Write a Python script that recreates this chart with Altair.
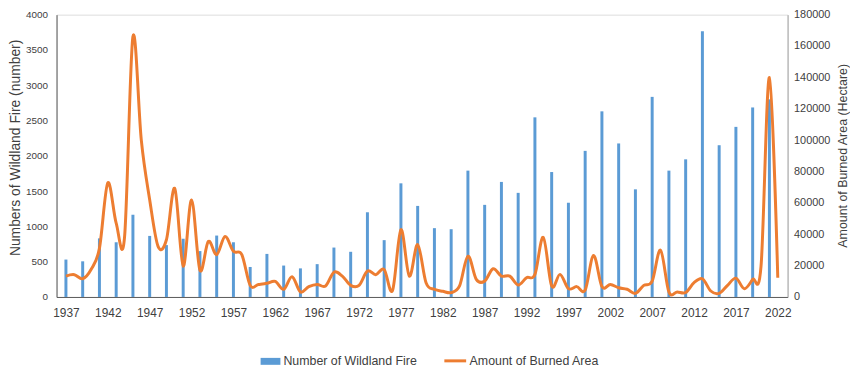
import altair as alt
import pandas as pd

# Number of wildland fires (bars, every other year)
bar_years = list(range(1937, 2022, 2))
fire_counts = [530, 505, 830, 775, 1165, 865, 735, 825, 650, 870, 775, 425,
               610, 445, 405, 465, 700, 640, 1200, 805, 1610, 1290, 975, 960,
               1790, 1305, 1630, 1475, 2545, 1770, 1335, 2070, 2630, 2175, 1525,
               2835, 1790, 1950, 3765, 2150, 2410, 2685, 2800]

# Amount of burned area (line, every year)
line_years = list(range(1937, 2023))
burned_area = [13300, 14200, 11600, 17500, 31000, 72800, 47100, 38200, 166000, 100000,
               62000, 32300, 36500, 69200, 19600, 61800, 17100, 35400, 27000, 38600,
               29100, 27000, 7400, 8000, 8700, 9900, 4900, 12900, 3200, 6600,
               8000, 7000, 15800, 13300, 7400, 7400, 16500, 14200, 17500, 4200,
               42900, 13300, 33400, 9100, 4900, 3600, 2800, 7000, 26000, 11200,
               10100, 18000, 13300, 13300, 7600, 12300, 14400, 38000, 7000, 14400,
               5300, 6600, 4400, 26400, 6600, 8000, 5900, 4900, 2300, 7400,
               10100, 29800, 3200, 3200, 2800, 9100, 11600, 3800, 2300, 7400,
               12000, 5300, 11200, 19600, 139900, 12300]

x_ticks = list(range(1937, 2023, 5))
left_ticks = list(range(0, 4001, 500))
right_ticks = list(range(0, 180001, 20000))

bar_name = "Number of Wildland Fire"
line_name = "Amount of Burned Area"

df_bars = pd.DataFrame({"year": bar_years, "fires": fire_counts, "s": bar_name})
df_line = pd.DataFrame({"year": line_years, "area": burned_area, "s": line_name})

FONT = "Liberation Sans"
TXT = "#404040"
x_scale = alt.Scale(domain=[1936.47, 2022.58], nice=False, zero=False)

bars = alt.Chart(df_bars).mark_bar(size=3).encode(
    x=alt.X("year:Q", scale=x_scale,
            axis=alt.Axis(values=x_ticks, format="d", title=None, ticks=False, grid=False,
                          labelFontSize=12, labelPadding=11, labelColor=TXT,
                          domainColor="#595959", labelFont=FONT)),
    y=alt.Y("fires:Q", scale=alt.Scale(domain=[0, 4000], nice=False),
            axis=alt.Axis(values=left_ticks, orient="left", ticks=False, grid=False,
                          format="d", title="Numbers of Wildland Fire (number)",
                          labelFontSize=10, labelPadding=9, labelColor=TXT, labelFont=FONT,
                          domainColor="#595959",
                          titleFontSize=14, titleFontWeight="normal", titleColor=TXT, titleFont=FONT,
                          titleAngle=270, titleX=-41, titleY=134, titleAlign="center",
                          titleBaseline="middle")),
    fill=alt.Fill("s:N", scale=alt.Scale(domain=[bar_name], range=["#5B9BD5"]),
                  legend=alt.Legend(orient="none", legendX=206, legendY=340, title=None,
                                    symbolType="M-1,-0.35H1V0.35H-1Z", symbolSize=400,
                                    symbolStrokeWidth=0, padding=0,
                                    labelFontSize=12.5, labelColor=TXT, labelFont=FONT,
                                    labelOffset=3)),
)

line = alt.Chart(df_line).mark_line(interpolate="cardinal", strokeWidth=3).encode(
    x=alt.X("year:Q", scale=x_scale),
    y=alt.Y("area:Q", scale=alt.Scale(domain=[0, 180000], nice=False),
            axis=alt.Axis(values=right_ticks, orient="right", ticks=False, grid=False,
                          format="d", title="Amount of Burned Area (Hectare)",
                          labelFontSize=11, labelPadding=6, labelColor=TXT, labelFont=FONT,
                          domainColor="#a6a6a6",
                          titleFontSize=12.5, titleFontWeight="normal", titleColor=TXT, titleFont=FONT,
                          titleAngle=270, titleX=55, titleY=142, titleAlign="center",
                          titleBaseline="middle")),
    stroke=alt.Stroke("s:N", scale=alt.Scale(domain=[line_name], range=["#ED7D31"]),
                      legend=alt.Legend(orient="none", legendX=390, legendY=337, title=None,
                                        symbolType="stroke", symbolSize=484,
                                        symbolStrokeWidth=3, padding=0,
                                        labelFontSize=12.5, labelColor=TXT, labelFont=FONT,
                                        labelOffset=2)),
)

chart = alt.layer(bars, line).resolve_scale(y="independent").properties(
    width=738, height=285,
    autosize=alt.AutoSizeParams(type="none"),
    padding={"left": 49, "top": 5, "right": 63, "bottom": 70},
).configure_view(stroke=None).configure(font=FONT)

chart.save("out.html", embed_options={"renderer": "svg", "actions": False})
